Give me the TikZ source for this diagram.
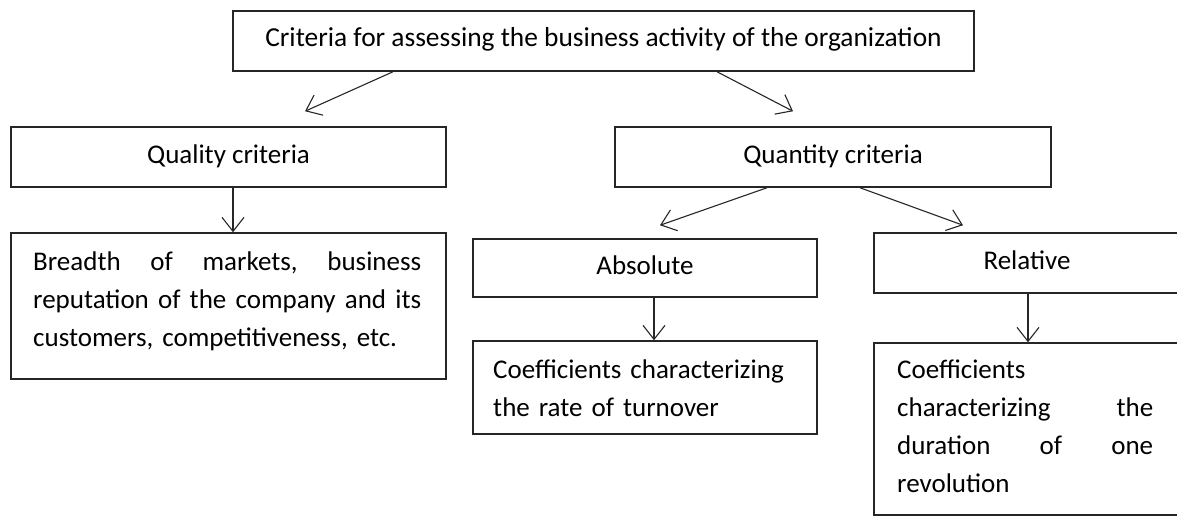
\documentclass[tikz,border=0pt]{standalone}
\usepackage{fontspec}
\setmainfont{Carlito}
\usetikzlibrary{arrows.meta,calc}
\begin{document}
\begin{tikzpicture}[x=1pt,y=-1pt,
  box/.style={draw=black!85,line width=1.5pt,inner sep=0pt,font=\fontsize{27}{38}\selectfont,text height=17pt,text depth=5pt},
  para/.style={inner sep=0pt,anchor=north west,text width=#1,align=left,font=\fontsize{27}{38}\selectfont},
  arr/.style={draw=black!85,line width=1.1pt,-{Straight Barb[length=14pt,width=22pt,line width=1.1pt]}}]
\useasboundingbox (0,0) rectangle (1177,516);
\clip (0,0) rectangle (1177,516);
\node[box,minimum width=741pt,minimum height=60pt,font=\fontsize{27.4}{38}\selectfont] (title) at (603.5,41) {Criteria for assessing the business activity of the organization};
\node[box,minimum width=435pt,minimum height=60pt] (quality) at (228.5,157) {Quality criteria};
\node[box,minimum width=436pt,minimum height=60pt] (quantity) at (833,157) {Quantity criteria};
\node[box,minimum width=435pt,minimum height=146pt] (breadth) at (228.5,306) {};
\node[box,minimum width=344pt,minimum height=58pt] (absolute) at (645,268) {Absolute};
\node[box,minimum width=344pt,minimum height=93pt] (coefa) at (645,387.5) {};
\node[box,minimum width=306pt,minimum height=60pt] (relative) at (1027,263) {Relative};
\node[box,minimum width=306pt,minimum height=172pt] (coefb) at (1027,429) {};
\node[para=388pt] (breadthtext) at (33,243.4) {\strut\makebox[388pt][l]{Breadth\hfill of\hfill markets,\hfill business}\\\makebox[388pt][l]{reputation\hfill of\hfill the\hfill company\hfill and\hfill its}\\customers, competitiveness, etc.};
\node[para=320pt] (coefatext) at (493,351.4) {\strut Coefficients characterizing\\the rate of turnover};
\node[para=256pt] (coefbtext) at (897,351.4) {\strut Coefficients\\\makebox[256pt][l]{characterizing\hfill the}\\\makebox[256pt][l]{duration\hfill of\hfill one}\\revolution};
\draw[arr] ([xshift=-210.5pt]title.south) -- ([xshift=76.5pt,yshift=15pt]quality.north);
\draw[arr] ([xshift=113.5pt]title.south) -- ([xshift=-40pt,yshift=15pt]quantity.north);
\draw[arr] ([xshift=4.5pt]quality.south) -- ([xshift=4.5pt]breadth.north);
\draw[arr] ([xshift=-66pt]quantity.south) -- ([xshift=15pt,yshift=13pt]absolute.north);
\draw[arr] ([xshift=27pt]quantity.south) -- ([xshift=-64pt,yshift=7pt]relative.north);
\draw[arr] ([xshift=9pt]absolute.south) -- ([xshift=9pt]coefa.north);
\draw[arr] ([xshift=1pt]relative.south) -- ([xshift=1pt]coefb.north);
\end{tikzpicture}
\end{document}
